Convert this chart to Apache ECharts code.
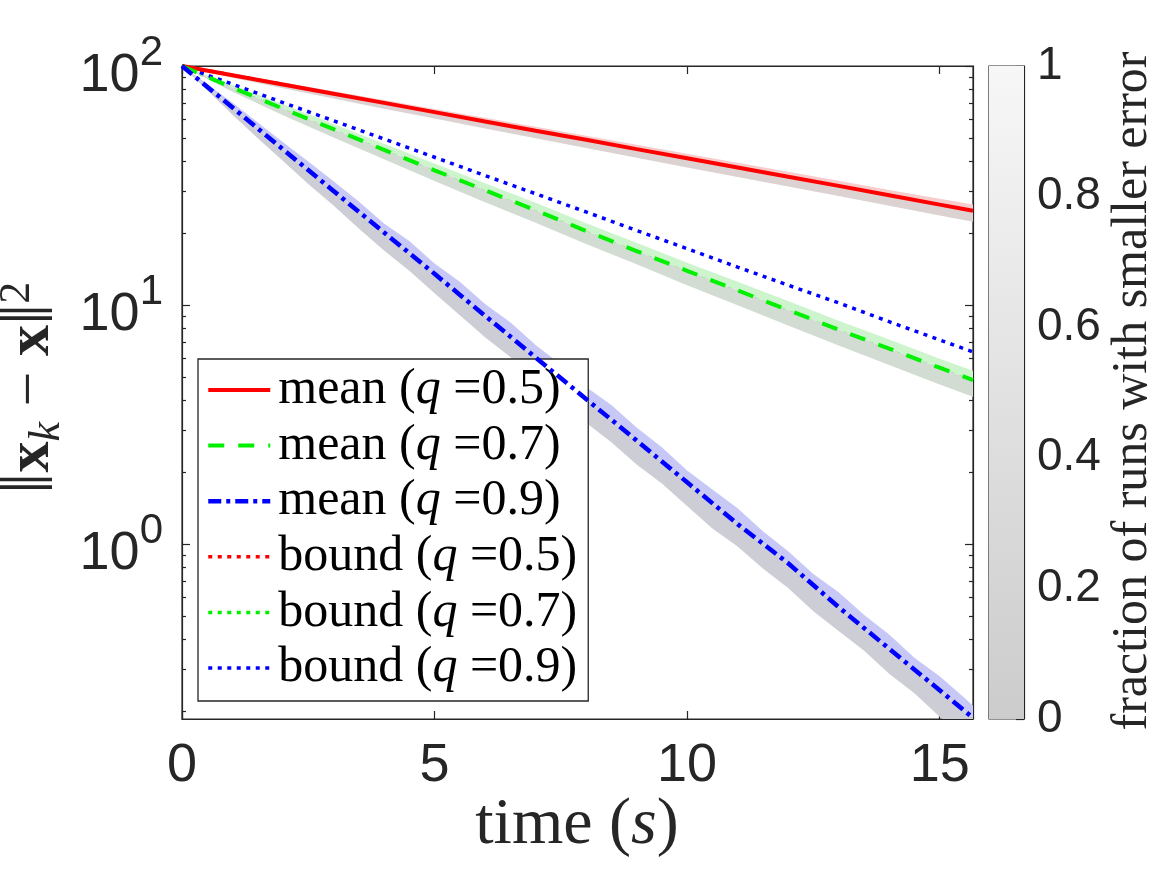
<!DOCTYPE html>
<html>
<head>
<meta charset="utf-8">
<script src="https://cdn.jsdelivr.net/npm/echarts@6/dist/echarts.min.js"></script>
<style>html,body{margin:0;padding:0;background:#fff}#c{width:1167px;height:875px}</style>
</head>
<body>
<div id="c"></div>
<script>
// ---------------- data ----------------
const tMean = [0,1,2,3,4,5,6,7,8,9,10,11,12,13,14,15,15.66];
const meanQ05 = [100,91.5,83.7,76.6,70.1,64.1,58.6,53.6,49.1,44.9,41.1,37.6,34.4,31.5,28.8,26.3,24.8];
const meanQ07 = [100,81.2,66.3,54.4,44.6,36.6,30.2,24.9,20.4,16.8,13.9,11.5,9.52,7.88,6.56,5.46,4.85];
const meanQ09 = [100,67.0,44.8,30.0,20.1,13.5,9.01,6.03,4.04,2.71,1.81,1.21,0.83,0.544,0.364,0.244,0.187];
const boundQ05 = [100,91.5,83.7,76.6,70.1,64.1,58.6,53.6,49.1,44.9,41.1,37.6,34.4,31.5,28.8,26.3,24.8];
const boundQ07 = [100,81.2,66.3,54.4,44.6,36.6,30.2,24.9,20.4,16.8,13.9,11.5,9.52,7.88,6.56,5.46,4.85];
const boundQ09 = [100,83.9,70.3,59.0,49.5,41.5,34.8,29.2,24.5,20.5,17.2,14.4,12.1,10.2,8.51,7.14,6.36];

const bandHiQ05 = [100,92.5,85.2,78.4,72.0,66.1,60.7,55.7,51.1,46.8,42.9,39.4,36.1,33.1,30.3,27.8,26.3];
const bandLoQ05 = [100,89.4,80.7,73.1,66.3,60.3,54.7,49.8,45.4,41.3,37.6,34.3,31.3,28.6,26.0,23.7,22.3];
const bandHiQ07 = [100,83.5,69.1,57.2,47.3,39.1,32.3,26.8,22.0,18.2,15.0,12.5,10.4,8.58,7.16,5.96,5.30];
const bandLoQ07 = [100,78.0,62.2,50.2,40.7,33.0,26.9,22.1,18.0,14.8,12.1,9.96,8.21,6.77,5.61,4.65,4.13];

const tBand = [0,0.5,1,1.5,2,2.5,3,3.5,4,4.5,5,5.5,6,6.5,7,7.5,8,8.5,9,9.5,10,10.5,11,11.5,12,12.5,13,13.5,14,14.5,15,15.5,15.66];
const bandHiQ09 = [100,84.1,70.1,58.0,48.0,39.8,32.9,27.1,21.9,18.5,14.9,12.5,10.1,8.47,6.80,5.64,4.53,3.81,3.07,2.54,2.03,1.69,1.41,1.13,0.932,0.749,0.627,0.505,0.418,0.334,0.279,0.226,0.210];
const bandLoQ09 = [100,79.1,62.5,49.9,40.0,32.1,26.1,20.9,16.9,13.9,11.2,9.06,7.32,6.06,4.85,4.01,3.21,2.66,2.15,1.79,1.44,1.16,0.975,0.788,0.653,0.522,0.432,0.358,0.286,0.237,0.189,0.158,0.149];

const xTicks = [0,5,10,15];
const yMajor = [1,10,100];
const yMinor = [0.2,0.3,0.4,0.5,0.6,0.7,0.8,0.9,2,3,4,5,6,7,8,9,20,30,40,50,60,70,80,90];
const colorbarValue = [1];

const X_MIN = 0, X_MAX = 15.66, Y_MIN = 0.185, Y_MAX = 100;

// ---------------- helpers ----------------
const INK = '#262626';
const SANS = '"Liberation Sans", Arial, sans-serif';
const SERIF = '"Liberation Serif", "DejaVu Serif", serif';
const zip = (t, v) => t.map((x, i) => [x, v[i]]);

function lineSeries(name, t, v, color, width, type, z) {
  return {
    type: 'line', name: name, data: zip(t, v), xAxisIndex: 0, yAxisIndex: 0,
    symbol: 'none', showSymbol: false, smooth: false, clip: true, z: z, silent: true,
    lineStyle: { color: color, width: width, type: type, cap: 'butt' },
    itemStyle: { color: color }
  };
}

function bandSeries(tB, hi, tM, mid, lo, cUp, cLo, z) {
  return {
    type: 'custom', name: 'band', xAxisIndex: 0, yAxisIndex: 0, z: z, silent: true, clip: true,
    data: [[1, 10]], encode: { x: 0, y: 1 },
    renderItem: function (params, api) {
      const P = (t, v) => api.coord([t, v]);
      const hiPts = tB.map((t, i) => P(t, hi[i]));
      const loPts = tB.map((t, i) => P(t, lo[i]));
      const midPts = tM.map((t, i) => P(t, mid[i]));
      return {
        type: 'group',
        children: [
          { type: 'polygon', shape: { points: hiPts.concat(midPts.slice().reverse()) }, style: { fill: cUp } },
          { type: 'polygon', shape: { points: midPts.concat(loPts.slice().reverse()) }, style: { fill: cLo } }
        ]
      };
    }
  };
}

const yAxisBase = (pos, ticks, len, showLine, showLabel) => ({
  type: 'log', logBase: 10, min: Y_MIN, max: Y_MAX, position: pos, gridIndex: 0,
  axisLine: { show: showLine, lineStyle: { color: INK, width: 1.2 } },
  axisTick: { show: true, inside: true, length: len, customValues: ticks, lineStyle: { color: INK, width: 1.2 } },
  splitLine: { show: false },
  axisLabel: showLabel ? {
    show: true, customValues: yMajor, margin: 19,
    formatter: v => '{h| }{b|10}{s|' + Math.round(Math.log10(v)) + '}',
    rich: {
      h: { fontSize: 1, lineHeight: 75, height: 2 },
      b: { fontFamily: SANS, fontSize: 54, color: INK, lineHeight: 54, height: 54, verticalAlign: 'bottom' },
      s: { fontFamily: SANS, fontSize: 42, color: INK, lineHeight: 50, height: 50, verticalAlign: 'top' }
    }
  } : { show: false }
});

const chart = echarts.init(document.getElementById('c'), null, { renderer: 'canvas' });

const legendRich = {
  n: { fontFamily: SERIF, fontSize: 50, lineHeight: 50, color: '#000' },
  i: { fontFamily: SERIF, fontSize: 50, lineHeight: 50, fontStyle: 'italic', color: '#000' }
};

chart.setOption({
  animation: false,
  backgroundColor: '#fff',
  grid: [
    { left: 182, top: 66, width: 791, height: 653, show: true, borderColor: INK, borderWidth: 1.2, backgroundColor: 'transparent', containLabel: false },
    { left: 989, top: 66, width: 35, height: 653, show: true, borderColor: INK, borderWidth: 1.2, backgroundColor: 'transparent', containLabel: false }
  ],
  xAxis: [
    {
      type: 'value', min: X_MIN, max: X_MAX, interval: 5, position: 'bottom', gridIndex: 0,
      axisLine: { show: true, lineStyle: { color: INK, width: 1.2 } },
      axisTick: { show: true, inside: true, length: 8, customValues: xTicks, lineStyle: { color: INK, width: 1.2 } },
      splitLine: { show: false },
      axisLabel: { customValues: xTicks, fontFamily: SANS, fontSize: 54, color: INK, margin: 20, lineHeight: 54 }
    },
    {
      type: 'value', min: X_MIN, max: X_MAX, interval: 5, position: 'top', gridIndex: 0,
      axisLine: { show: true, lineStyle: { color: INK, width: 1.2 } },
      axisTick: { show: true, inside: true, length: 8, customValues: xTicks, lineStyle: { color: INK, width: 1.2 } },
      splitLine: { show: false }, axisLabel: { show: false }
    },
    {
      type: 'category', data: ['cb'], gridIndex: 1, show: false, boundaryGap: true
    }
  ],
  yAxis: [
    yAxisBase('left', yMajor, 8, true, true),
    yAxisBase('left', yMinor, 4, false, false),
    yAxisBase('right', yMajor, 8, true, false),
    yAxisBase('right', yMinor, 4, false, false),
    {
      type: 'value', min: 0, max: 1, interval: 0.2, position: 'right', gridIndex: 1,
      axisLine: { show: true, lineStyle: { color: INK, width: 1.2 } },
      axisTick: { show: true, inside: true, length: 8, lineStyle: { color: INK, width: 1.2 } },
      splitLine: { show: false },
      axisLabel: { fontFamily: SANS, fontSize: 46, color: INK, margin: 13 }
    }
  ],
  legend: {
    show: true, orient: 'vertical', left: 198, top: 359,
    padding: [6, 11, 8, 8], itemGap: 5.6, itemWidth: 62, itemHeight: 14,
    backgroundColor: '#fff', borderColor: INK, borderWidth: 1.3, borderRadius: 0,
    selectedMode: false,
    itemStyle: { color: 'transparent', borderWidth: 0, opacity: 0 },
    lineStyle: { width: 'inherit', type: 'inherit', cap: 'butt' },
    data: ['mean (q =0.5)', 'mean (q =0.7)', 'mean (q =0.9)', 'bound (q =0.5)', 'bound (q =0.7)', 'bound (q =0.9)'],
    formatter: function (name) {
      const m = name.match(/^(\w+) \(q =(.+)\)$/);
      return '{n|' + m[1] + ' (}{i|q}{n| =' + m[2] + ')}';
    },
    textStyle: { fontFamily: SERIF, fontSize: 50, lineHeight: 50, color: '#000', padding: [0, 0, 0, 3], rich: legendRich }
  },
  series: [
    lineSeries('bound (q =0.5)', tMean, boundQ05, '#ff0000', 3.5, [4, 5.5], 1),
    lineSeries('bound (q =0.7)', tMean, boundQ07, '#00f000', 3.5, [4, 5.5], 1),
    bandSeries(tMean, bandHiQ05, tMean, meanQ05, bandLoQ05, '#f6cccc', '#dcd2d2', 2),
    bandSeries(tMean, bandHiQ07, tMean, meanQ07, bandLoQ07, '#cdf4cd', '#d2dcd2', 2),
    bandSeries(tBand, bandHiQ09, tMean, meanQ09, bandLoQ09, '#c8c8f7', '#cdcdd6', 2),
    lineSeries('bound (q =0.9)', tMean, boundQ09, '#0000ff', 3.5, [4, 5.5], 3),
    lineSeries('mean (q =0.5)', tMean, meanQ05, '#ff0000', 4, 'solid', 4),
    lineSeries('mean (q =0.7)', tMean, meanQ07, '#00f000', 4, [16, 14], 4),
    lineSeries('mean (q =0.9)', tMean, meanQ09, '#0000ff', 4.5, [13, 5, 4, 5], 4),
    {
      type: 'bar', name: 'colorbar', xAxisIndex: 2, yAxisIndex: 4, data: colorbarValue,
      barWidth: '100%', silent: true, z: 1,
      itemStyle: {
        color: new echarts.graphic.LinearGradient(0, 0, 0, 1, [
          { offset: 0, color: '#f7f7f7' }, { offset: 1, color: '#cccccc' }
        ])
      }
    }
  ],
  graphic: [
    {
      type: 'text', x: 577, y: 826, silent: true,
      style: {
        text: '{n|time (}{i|s}{n|)}', align: 'center', verticalAlign: 'middle',
        rich: {
          n: { font: '66px ' + SERIF, fill: INK },
          i: { font: 'italic 66px ' + SERIF, fill: INK }
        }
      }
    },
    {
      type: 'text', x: 32, y: 388, rotation: Math.PI / 2, silent: true,
      style: {
        text: '{h| }{v|\u2016}{b|x}{sub|k}{n| \u2212 }{b|x}{v|\u2016}{sup|2}', align: 'center', verticalAlign: 'middle',
        rich: {
          h: { font: '1px sans-serif', lineHeight: 74, height: 2 },
          v: { font: '76px ' + SERIF, fill: INK, lineHeight: 62, height: 62 },
          n: { font: '62px ' + SERIF, fill: INK, lineHeight: 62, height: 62 },
          b: { font: 'bold 62px ' + SERIF, fill: INK, lineHeight: 62, height: 62 },
          sub: { font: 'italic 44px ' + SERIF, fill: INK, lineHeight: 44, height: 44, verticalAlign: 'bottom' },
          sup: { font: '44px ' + SERIF, fill: INK, lineHeight: 44, height: 44, verticalAlign: 'top' }
        }
      }
    },
    {
      type: 'text', x: 1133, y: 391, rotation: Math.PI / 2, silent: true,
      style: {
        text: 'fraction of runs with smaller error', align: 'center', verticalAlign: 'middle',
        font: '50px ' + SERIF, fill: INK
      }
    }
  ]
});
</script>
</body>
</html>
